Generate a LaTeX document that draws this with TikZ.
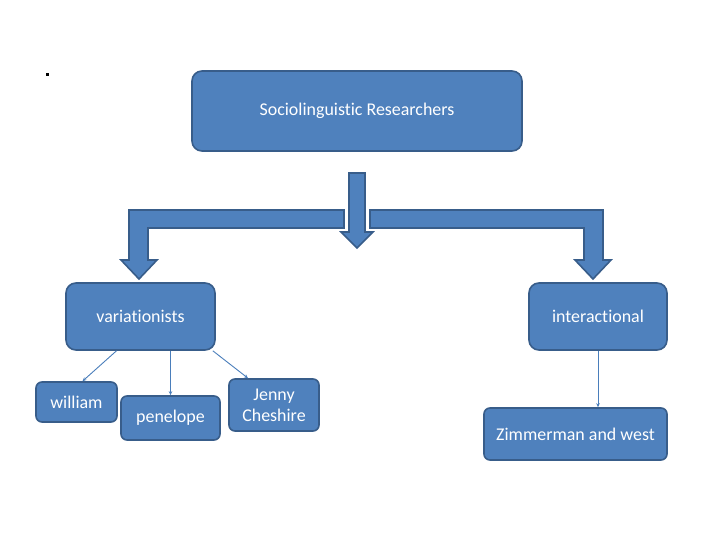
\documentclass[tikz,border=0pt]{standalone}
\usepackage{fontspec}
\setmainfont[Ligatures={NoCommon}]{Carlito}
\usepackage{tikz}
\usetikzlibrary{arrows.meta}
\usepackage{xcolor}
\definecolor{boxblue}{HTML}{4F81BD}
\definecolor{boxedge}{HTML}{385D8A}
\definecolor{linkblue}{HTML}{4A7EBB}

\tikzset{
  bigbox/.style={draw=boxedge, fill=boxblue, line width=1.6bp, rounded corners=10bp,
    text=white, font=\fontsize{18}{21}\selectfont, inner sep=0pt},
  smallbox/.style={draw=boxedge, fill=boxblue, line width=1.6bp, rounded corners=6bp,
    text=white, font=\fontsize{18}{21}\selectfont, inner sep=0pt, align=center},
  blockarrow/.style={draw=boxedge, fill=boxblue, line width=1.6bp},
  link/.style={draw=linkblue, line width=0.9bp, -{Stealth[length=4bp,width=3.5bp]}}
}

\begin{document}
\begin{tikzpicture}[x=1bp, y=-1bp]
				\useasboundingbox (0,0) rectangle (720,540);
				\fill (45.5,73.5) rectangle (48.5,76.5);
				% top box
				\node[bigbox, minimum width=330bp, minimum height=80bp] (soc) at (357,111) {Sociolinguistic Researchers};
				% block arrows
				\draw[blockarrow] (349,173) -- (365,173) -- (365,232) -- (373,232) -- (357,248) -- (341,232) -- (349,232) -- cycle;
				\draw[blockarrow] (344,210) -- (129,210) -- (129,260) -- (121,260) -- (139,279) -- (157,260) -- (148,260) -- (148,228) -- (344,228) -- cycle;
				\draw[blockarrow] (370,210) -- (603,210) -- (603,260) -- (611,260) -- (593,279) -- (575,260) -- (584,260) -- (584,228) -- (370,228) -- cycle;
				% second row
				\node[bigbox, minimum width=149bp, minimum height=67bp] (var) at (140.5,316.5) {variationists};
				\node[bigbox, minimum width=138bp, minimum height=67bp] (inter) at (598,316.5) {interactional};
				% leaves
				\node[smallbox, minimum width=81bp, minimum height=40bp] (william) at (76.5,402) {william};
				\node[smallbox, minimum width=99bp, minimum height=44bp] (penelope) at (170.5,418) {penelope};
				\node[smallbox, minimum width=90bp, minimum height=52bp] (jenny) at (274,405) {Jenny\\Cheshire};
				\node[smallbox, minimum width=183bp, minimum height=52bp] (zim) at (575.5,434) {Zimmerman and west};
				% links
				\draw[link] ([xshift=-24bp]var.south) -- ([xshift=6bp]william.north);
				\draw[link] (penelope.north |- var.south) -- (penelope.north);
				\draw[link] ([xshift=-3bp]var.south east) -- ([xshift=-26bp]jenny.north);
				\draw[link] (inter.south) -- (inter.south |- zim.north);
			\end{tikzpicture}
\end{document}
